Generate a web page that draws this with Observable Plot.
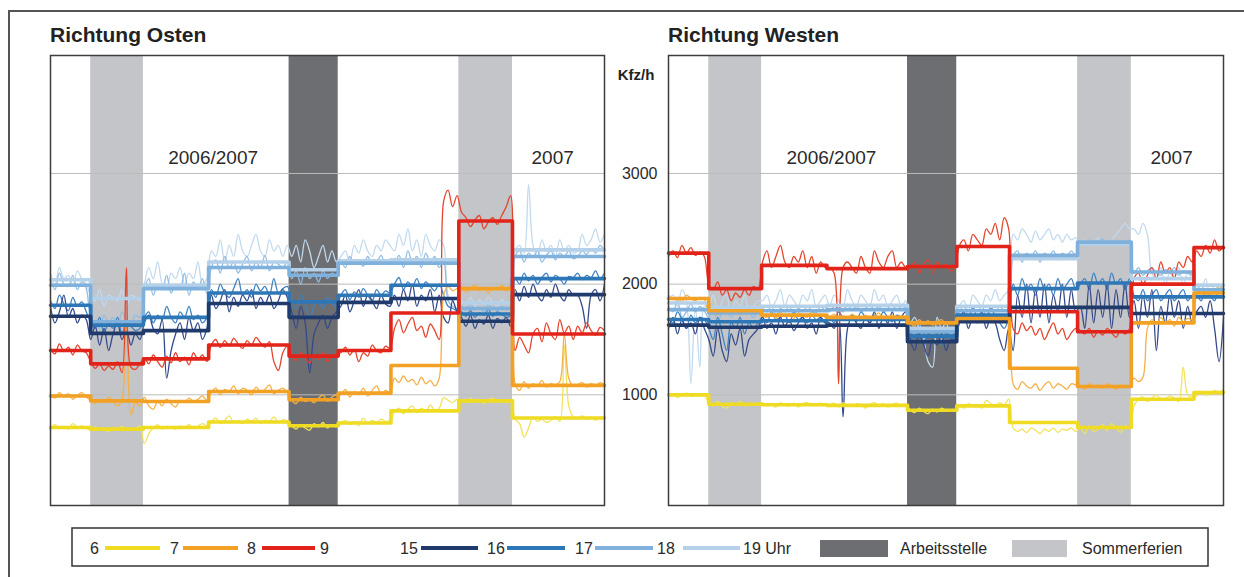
<!DOCTYPE html>
<html><head><meta charset="utf-8">
<script src="https://cdn.jsdelivr.net/npm/d3@7"></script>
<script src="https://cdn.jsdelivr.net/npm/@observablehq/plot@0.6"></script>
<style>
html,body{margin:0;padding:0;background:#fff;}
#root{position:relative;width:1244px;height:577px;overflow:hidden;font-family:"Liberation Sans",Arial,sans-serif;}
</style></head><body><div id="root"></div>
<script>
// ---------- data ----------
const periodStart = [0, 4.5, 10.4, 17.7, 26.7, 32.2, 38.1, 45.7, 51.7, 58.7];
const periodEnd = 62;
const days = d3.range(0, 62.5, 0.5); // half-week sample index 0..62
const hours = ["6", "7", "8", "15", "16", "17", "18"];
const sommerferien = [{a: 4.5, b: 10.4}, {a: 45.7, b: 51.7}];
const arbeitsstelle = [{a: 26.7, b: 32.2}];
const gridValues = [1000, 2000, 3000];
const yearLabels = [{t: 18.2, v: 3090, label: "2006/2007"}, {t: 56.2, v: 3090, label: "2007"}];

// Richtung Osten – period means (thick)
const ostenStep6  = [705, 690, 705, 755, 720, 745, 855, 945, 790, 790];
const ostenStep7  = [990, 945, 940, 1030, 955, 1015, 1265, 1960, 1085, 1085];
const ostenStep8  = [1400, 1280, 1325, 1450, 1350, 1400, 1740, 2570, 1550, 1550];
const ostenStep15 = [1710, 1555, 1580, 1825, 1700, 1835, 1870, 1665, 1905, 1905];
const ostenStep16 = [1810, 1630, 1700, 1920, 1840, 1900, 1990, 1730, 2050, 2050];
const ostenStep17 = [1990, 1660, 1960, 2150, 2080, 2190, 2190, 1780, 2250, 2250];
const ostenStep18 = [2040, 1870, 1990, 2200, 2130, 2210, 2220, 1830, 2310, 2310];

// Richtung Osten – single values (thin)
const ostenDay6 = [690,730,700,715,690,740,705,720,700,
  680,710,690,700,670,705,690,715,680,700,690,720,
  560,650,700,730,690,715,700,690,720,705,730,700,715,740,720,
  760,790,740,770,810,750,765,740,780,760,790,745,770,760,800,750,775,760,
  720,690,730,700,680,740,710,750,700,730,710,
  740,770,730,760,720,790,740,770,750,780,760,770,
  850,880,830,870,900,840,880,850,910,860,880,975,950,930,960,
  950,930,970,940,960,920,950,970,940,955,930,950,
  780,740,620,700,800,760,780,750,770,800,760,1450,900,800,
  790,810,780,800,770,800,790];
const ostenDay7 = [1000,970,1020,985,1010,960,995,1020,980,
  950,920,960,930,980,940,900,960,1650,820,930,900,
  980,900,870,940,900,960,920,890,950,930,970,940,960,990,950,
  1020,1060,1000,1050,1030,1080,1010,1060,1040,1000,1070,1030,1050,1090,1010,1040,1060,1020,
  950,920,980,940,960,930,970,1000,940,980,1000,
  1000,1050,980,1030,1000,1060,990,1040,1080,1010,1040,1020,
  1150,1110,1170,1120,1140,1090,1160,1100,1130,1080,1150,1900,1980,1940,1960,
  1980,1930,1960,1990,1940,1970,1920,1960,1950,1990,1940,1990,
  1100,1040,1120,1060,1100,1080,1130,1070,1100,1090,1120,1550,1150,1080,
  1090,1110,1070,1100,1080,1110,1090];
const ostenDay8 = [1420,1370,1460,1390,1430,1360,1450,1400,1380,
  1300,1240,1280,1220,1260,1230,1300,1200,2150,1250,1230,1280,
  1330,1280,1360,1300,1250,1350,1290,1380,1300,1340,1270,1380,1320,1360,1300,
  1450,1500,1430,1490,1440,1510,1460,1420,1490,1450,1520,1470,1430,1480,1300,1220,1380,1440,
  1350,1310,1380,1330,1290,1360,1320,1380,1300,1350,1370,
  1380,1430,1360,1410,1300,1380,1350,1450,1400,1380,1440,1420,
  1600,1680,1560,1640,1700,1580,1620,1520,1640,1580,1500,2750,2850,2700,2800,
  2650,2600,2520,2580,2620,2500,2560,2600,2540,2620,2700,2800,
  1400,1520,1450,1380,1550,1600,1480,1650,1550,1500,1680,1560,1620,1500,
  1620,1560,1650,1580,1540,1610,1580];
const ostenDay15 = [1800,1650,1750,1900,1700,1780,1650,1720,1680,
  1500,1620,1450,1600,1400,1550,1650,1500,1580,1450,1550,1500,
  1650,1720,1600,1550,1680,1150,1400,1550,1650,1500,1700,1580,1650,1500,1600,
  1900,1780,1850,1950,1750,1880,1800,1900,1850,1950,1780,1880,1820,1900,1780,1850,1950,1880,
  1750,1600,1800,1650,1200,1550,1650,1720,1600,1700,1750,
  1800,1900,1750,1850,1950,1800,1900,1850,1780,1900,1820,1800,
  1900,1800,1950,1850,2000,1800,1900,1850,1950,1750,1900,1700,1650,1850,1750,
  1700,1620,1720,1600,1680,1640,1720,1600,1690,1650,1700,1620,
  1950,1850,1980,1880,2000,1900,1850,1950,1880,2000,1900,1850,1950,1900,
  1900,1800,1600,1900,1950,1850,2000];
const ostenDay16 = [1850,1780,1900,1820,1760,1880,1800,1840,1750,
  1650,1600,1700,1560,1650,1600,1700,1550,1650,1620,1580,1600,
  1700,1750,1650,1720,1680,1800,1700,1650,1750,1700,1800,1680,1720,1650,1700,
  1950,1880,2000,1920,1880,1960,2050,1900,1950,1880,2000,1940,1980,1900,2050,1920,1960,1980,
  1850,1780,1900,1820,1700,1800,1850,1780,1880,1820,1800,
  1900,1950,1860,1930,1880,1960,1900,1850,1950,1900,1940,1920,
  2000,2060,1950,2020,1980,2050,1960,2020,1980,1940,2000,1900,1800,1780,1760,
  1750,1710,1760,1700,1740,1720,1770,1710,1750,1730,1700,1720,
  2050,2000,2100,2030,2080,2000,2060,2100,2020,2080,2050,2000,2070,2060,
  2100,2040,2080,2060,2120,2050,2100];
const ostenDay17 = [2050,1950,2100,2000,1980,2080,1950,2020,1960,
  1700,1650,1600,1720,1650,1700,1620,1750,1680,1640,1720,1700,
  1950,2050,1900,2000,1950,2080,1920,2000,1960,2100,1900,2020,1950,2050,1920,
  2150,2220,2100,2250,2150,2200,2100,2180,2250,2120,2200,2150,2260,2120,2200,2180,2150,2200,
  2050,2120,2000,2150,2050,2100,2020,2120,2050,2100,2080,
  2200,2150,2250,2180,2220,2160,2250,2180,2200,2260,2180,2220,
  2200,2260,2150,2300,2200,2250,2150,2280,2200,2250,2150,2200,1850,1800,1780,
  1800,1760,1820,1770,1790,1750,1810,1780,1760,1800,1770,1790,
  2250,2300,2200,2280,2240,2300,2200,2260,2300,2220,2280,2250,2300,2230,
  2250,2300,2270,2320,2280,2350,2300];
const ostenDay18 = [2100,2000,2150,2050,2080,1980,2120,2050,2000,
  1900,1850,1950,1800,1900,1880,1850,1950,1800,1900,1880,1850,
  2000,2150,2050,2200,2000,1950,2100,2050,2150,2000,2100,2050,2200,2000,2050,
  2300,2250,2400,2200,2350,2250,2450,2300,2250,2350,2450,2300,2250,2400,2300,2350,2250,2350,
  2250,2350,2200,2400,2300,2150,2250,2350,2200,2300,2200,
  2250,2300,2200,2350,2280,2400,2300,2250,2350,2300,2400,2350,
  2300,2450,2350,2500,2300,2400,2250,2450,2350,2300,2400,2350,1900,1850,1880,
  1850,1820,1880,1800,1860,1820,1880,1840,1800,1860,1830,1850,
  2300,2350,2280,2900,2350,2250,2400,2300,2350,2250,2400,2300,2350,2280,
  2300,2450,2350,2400,2500,2380,2450];

// Richtung Westen – period means (thick)
const westenStep6  = [1000, 915, 910, 905, 860, 900, 750, 705, 960, 1020];
const westenStep7  = [1870, 1760, 1720, 1700, 1650, 1690, 1240, 1075, 1650, 1920];
const westenStep8  = [2280, 1960, 2170, 2140, 2160, 2340, 1750, 1570, 2000, 2330];
const westenStep15 = [1630, 1610, 1620, 1630, 1480, 1660, 1790, 1790, 1735, 1735];
const westenStep16 = [1680, 1660, 1670, 1680, 1530, 1720, 1960, 2010, 1885, 1885];
const westenStep17 = [1770, 1740, 1760, 1770, 1570, 1760, 2260, 2380, 2110, 1950];
const westenStep18 = [1830, 1790, 1800, 1810, 1600, 1800, 2230, 2360, 2050, 1990];

// Richtung Westen – single values (thin)
const westenDay6 = [990,1010,975,1000,1015,985,1005,990,1000,
  920,900,940,895,880,930,910,940,900,925,910,920,
  930,900,915,890,930,905,900,925,890,920,930,900,915,925,910,
  910,925,890,930,905,895,920,910,880,915,930,900,920,890,910,925,900,915,
  860,840,880,850,830,870,845,880,860,850,865,
  900,880,920,895,910,880,950,920,900,930,910,960,
  700,670,690,660,700,680,650,690,670,700,660,690,680,700,670,
  700,650,720,670,690,730,680,740,700,660,720,700,
  900,960,980,940,970,1000,950,960,990,970,940,1250,1000,980,
  990,1020,1000,1010,1040,1020,1050];
const westenDay7 = [1900,1860,1880,1840,1900,1870,1850,1880,1860,
  1750,1790,1720,1780,1800,1740,1770,1720,1760,1790,1740,1750,
  1720,1700,1740,1690,1750,1710,1730,1690,1740,1720,1700,1750,1710,1730,1700,
  1700,1730,1680,1710,1690,1730,1700,1670,1720,1690,1710,1740,1680,1700,1720,1690,1710,1700,
  1650,1620,1680,1640,1670,1630,1660,1680,1640,1660,1650,
  1700,1680,1720,1690,1710,1680,1720,1700,1690,1710,1680,1650,
  1100,1050,1120,1080,1060,1100,1040,1090,1120,1060,1100,1080,1050,1100,1090,
  1080,1050,1100,1070,1090,1060,1100,1080,1050,1090,1070,1080,
  1150,1120,1160,1600,1680,1640,1700,1650,1680,1620,1700,1660,1690,1680,
  1900,1950,1900,1960,1920,1980,1950];
const westenDay8 = [2250,2300,2240,2350,2280,2330,2260,2290,2250,
  2000,1950,2020,1900,1950,1850,1920,1880,1950,1900,1980,1950,
  2200,2300,2150,2250,2350,2200,2150,2250,2200,2300,2150,2250,2100,2200,2150,
  2150,2100,1100,2150,2200,2150,2100,2250,2150,2100,2300,2200,2150,2250,2300,2150,2200,2150,
  2150,2200,2100,2180,2220,2100,2200,2150,2180,2120,2150,
  2350,2400,2300,2450,2400,2350,2500,2450,2550,2400,2600,2500,
  1600,1550,1650,1580,1620,1540,1600,1500,1580,1650,1550,1600,1500,1560,1600,
  1580,1550,1600,1520,1580,1540,1600,1560,1520,1580,1550,1600,
  2050,2100,2000,2080,2150,2050,2200,2100,2150,2050,2200,2150,2250,2200,
  2300,2250,2350,2280,2400,2300,2350];
const westenDay15 = [1600,1700,1550,1680,1600,1650,1550,1700,1600,
  1500,1350,1600,1400,1300,1550,1450,1600,1350,1500,1550,1600,
  1700,1600,1650,1550,1700,1620,1680,1580,1650,1700,1600,1650,1550,1700,1650,
  1650,1600,1700,800,1600,1700,1650,1600,1700,1650,1750,1600,1700,1650,1750,1600,1700,1750,
  1500,1400,1550,1450,1350,1500,1450,1550,1400,1500,1500,
  1650,1750,1600,1700,1650,1750,1600,1700,1650,1500,1400,1600,
  1400,1900,1700,2000,1650,1950,1700,2000,1650,1900,1750,2000,1700,1950,1750,
  1800,1600,2000,1650,1950,1700,2000,1600,1950,1700,2000,1700,
  1850,1600,1900,1700,1950,1400,1800,1650,1900,1700,1850,1600,1800,1650,
  1750,1800,1700,1850,1600,1300,1700];
const westenDay16 = [1700,1650,1750,1680,1600,1720,1650,1700,1680,
  1600,1500,1700,1550,1400,1650,1600,1700,1550,1650,1600,1650,
  1700,1650,1750,1680,1700,1720,1650,1750,1680,1700,1650,1720,1680,1700,1650,
  1700,1650,1750,1700,1680,1720,1660,1750,1700,1650,1720,1680,1750,1700,1660,1720,1700,1680,
  1550,1500,1600,1450,1550,1500,1580,1450,1550,1500,1520,
  1700,1750,1650,1800,1700,1750,1650,1800,1700,1650,1600,1700,
  2000,1900,2050,1950,2000,1900,2050,1950,2000,1900,2050,1950,2000,2050,1950,
  2000,2050,1950,2100,2000,2050,1950,2100,2000,2050,1950,2050,
  1900,1850,1950,1850,1900,1950,1850,1900,1950,1850,1900,1950,1850,1900,
  1900,1850,1950,1900,1850,1950,1900];
const westenDay17 = [1800,1750,1850,1700,1750,1820,1750,1800,1760,
  1700,1800,1650,1750,1800,1700,1780,1720,1800,1750,1700,1760,
  1780,1750,1800,1720,1780,1750,1800,1720,1780,1750,1800,1760,1740,1800,1760,
  1750,1800,1780,1750,1820,1760,1800,1750,1780,1820,1760,1800,1750,1780,1820,1760,1800,1780,
  1600,1550,1650,1500,1600,1550,1620,1500,1600,1550,1580,
  1750,1800,1720,1780,1750,1800,1720,1780,1750,1800,1760,1780,
  2250,2300,2200,2280,2250,2300,2200,2280,2250,2300,2220,2280,2250,2300,2260,
  2380,2350,2400,2360,2380,2410,2350,2400,2370,2390,2360,2400,
  2100,2150,2080,2120,2150,2100,2080,2130,2100,2150,2080,2120,2100,2080,
  1950,2000,1900,1960,1930,1980,1950];
const westenDay18 = [1850,1900,1800,1950,1850,1100,1800,1250,1800,
  1800,1900,1750,1850,1900,1700,1850,1800,1900,1750,1800,1850,
  1850,1900,1800,1850,1950,1800,1900,1850,1800,1900,1850,1950,1800,1850,1900,
  1800,1900,1850,1800,1950,1850,1800,1900,1850,1800,1950,1850,1900,1800,1850,1900,1800,1850,
  1650,1700,1600,1500,1300,1250,1700,1600,1650,1550,1600,
  1800,1850,1750,1900,1850,1800,1900,1850,1950,1850,1900,1950,
  2450,2400,2500,2450,2380,2480,2400,2450,2500,2400,2450,2380,2450,2400,2420,
  2350,2400,2380,2350,2420,2380,2350,2400,2450,2500,2550,2500,
  2500,2450,2550,2450,2100,2050,2150,2000,2100,2050,2150,2000,2100,2050,
  2000,1950,2050,1900,2000,1950,2000];

// ---------- styles ----------
const thickColor = {"6": "#eedb22", "7": "#f2a125", "8": "#e2231a", "15": "#1f3a6b", "16": "#2e77b7", "17": "#7fb1dc", "18": "#b5d1ea"};
const thinColor  = {"6": "#f2e25a", "7": "#f4b048", "8": "#e5442c", "15": "#34498a", "16": "#3f82c2", "17": "#92bde3", "18": "#c2d9ee"};

const osten = {
  step: {"6": ostenStep6, "7": ostenStep7, "8": ostenStep8, "15": ostenStep15, "16": ostenStep16, "17": ostenStep17, "18": ostenStep18},
  day:  {"6": ostenDay6, "7": ostenDay7, "8": ostenDay8, "15": ostenDay15, "16": ostenDay16, "17": ostenDay17, "18": ostenDay18}
};
const westen = {
  step: {"6": westenStep6, "7": westenStep7, "8": westenStep8, "15": westenStep15, "16": westenStep16, "17": westenStep17, "18": westenStep18},
  day:  {"6": westenDay6, "7": westenDay7, "8": westenDay8, "15": westenDay15, "16": westenDay16, "17": westenDay17, "18": westenDay18}
};

function stepRows(values) {
  const rows = periodStart.map((t, i) => ({t, v: values[i]}));
  rows.push({t: periodEnd, v: values[values.length - 1]});
  return rows;
}
function dayRows(values) { return days.map((t, i) => ({t, v: values[i]})).filter(d => d.v != null); }

const drawOrder = ["18", "17", "16", "15", "6", "7", "8"];

function panel(data, withAxis) {
  const marks = [
    Plot.rect(sommerferien, {x1: "a", x2: "b", fill: "#c3c5c8"}),
    Plot.rect(arbeitsstelle, {x1: "a", x2: "b", fill: "#6d6e71"}),
    Plot.ruleY(gridValues, {stroke: "#bcbcbc", strokeWidth: 1}),
    ...drawOrder.map(h => Plot.line(dayRows(data.day[h]), {x: "t", y: "v", stroke: thinColor[h], strokeWidth: 1.3, curve: "catmull-rom"})),
    ...drawOrder.map(h => Plot.line(stepRows(data.step[h]), {x: "t", y: "v", stroke: thickColor[h], strokeWidth: 3.6, curve: "step-after"})),
    Plot.text(yearLabels, {x: "t", y: "v", text: "label", fontSize: 19, lineAnchor: "bottom", fill: "#2a2a2a"}),
    Plot.frame({stroke: "#3d3d3d", strokeWidth: 1.5})
  ];
  return Plot.plot({
    width: withAxis ? 621 : 558,
    height: 454,
    marginTop: 2, marginBottom: 2, marginRight: 2,
    marginLeft: withAxis ? 64 : 2,
    x: {domain: [0, periodEnd], axis: null},
    y: withAxis
      ? {domain: [0, 4066], ticks: gridValues, tickSize: 0, tickPadding: 11, label: null, tickFormat: d => String(d)}
      : {domain: [0, 4066], axis: null},
    style: {fontFamily: '"Liberation Sans", Arial, sans-serif', fontSize: "16px", color: "#2a2a2a", background: "none", overflow: "visible"},
    marks
  });
}

const root = document.getElementById("root");
const left = panel(osten, false);
left.style.position = "absolute"; left.style.left = "48px"; left.style.top = "53px";
root.appendChild(left);
const right = panel(westen, true);
right.style.position = "absolute"; right.style.left = "604px"; right.style.top = "53px";
root.appendChild(right);

// ---------- overlay: titles, unit, legend, outer border ----------
const ov = d3.select(root).append("svg")
  .attr("width", 1244).attr("height", 577)
  .style("position", "absolute").style("left", 0).style("top", 0).style("pointer-events", "none")
  .style("font-family", '"Liberation Sans", Arial, sans-serif');

ov.append("path").attr("d", "M9,577V11H1244").attr("fill", "none").attr("stroke", "#555").attr("stroke-width", 2);
ov.append("text").attr("x", 50).attr("y", 42).attr("font-size", 21).attr("font-weight", "bold").attr("fill", "#222").text("Richtung Osten");
ov.append("text").attr("x", 668).attr("y", 42).attr("font-size", 21).attr("font-weight", "bold").attr("fill", "#222").text("Richtung Westen");
ov.append("text").attr("x", 636).attr("y", 80).attr("text-anchor", "middle").attr("font-size", 15).attr("font-weight", "bold").attr("fill", "#222").text("Kfz/h");

// legend
const legendLabels = ["6", "7", "8", "9", "15", "16", "17", "18", "19 Uhr"];
const legendLabelX = [90, 170, 247, 320, 400, 487, 575, 657, 743];
const legendLines = [
  {h: "6", x1: 105, x2: 160}, {h: "7", x1: 183, x2: 238}, {h: "8", x1: 262, x2: 315},
  {h: "15", x1: 421, x2: 478}, {h: "16", x1: 507, x2: 565}, {h: "17", x1: 595, x2: 653}, {h: "18", x1: 683, x2: 740}
];
const legendSwatches = [
  {label: "Arbeitsstelle", fill: "#6d6e71", x: 820, w: 68, tx: 900},
  {label: "Sommerferien", fill: "#c3c5c8", x: 1012, w: 55, tx: 1082}
];
ov.append("rect").attr("x", 72).attr("y", 528).attr("width", 1136).attr("height", 38)
  .attr("fill", "none").attr("stroke", "#333").attr("stroke-width", 1.5);
legendLines.forEach(d => ov.append("line").attr("x1", d.x1).attr("x2", d.x2).attr("y1", 548).attr("y2", 548)
  .attr("stroke", thickColor[d.h]).attr("stroke-width", 4));
legendLabels.forEach((l, i) => ov.append("text").attr("x", legendLabelX[i]).attr("y", 554)
  .attr("font-size", 16).attr("fill", "#2a2a2a").text(l));
legendSwatches.forEach(d => {
  ov.append("rect").attr("x", d.x).attr("y", 540).attr("width", d.w).attr("height", 17).attr("fill", d.fill);
  ov.append("text").attr("x", d.tx).attr("y", 554).attr("font-size", 16).attr("fill", "#2a2a2a").text(d.label);
});
</script></body></html>
